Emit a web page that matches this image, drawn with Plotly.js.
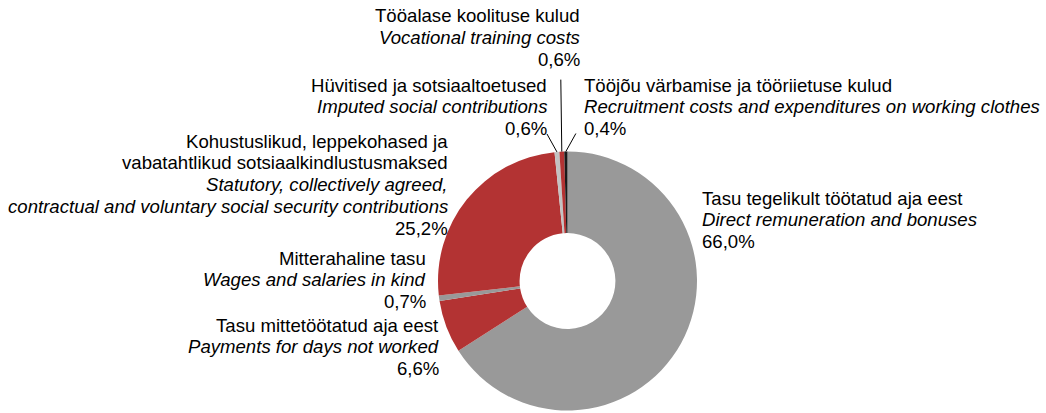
<!DOCTYPE html>
<html>
<head>
<meta charset="utf-8">
<script src="https://cdn.plot.ly/plotly-3.0.1.min.js"></script>
<style>html,body{margin:0;padding:0;background:#fff;}#chart{width:1046px;height:413px;}</style>
</head>
<body>
<div id="chart"></div>
<script>
// ---- data ----
const labelsEt = [
  "Tasu tegelikult töötatud aja eest",
  "Tasu mittetöötatud aja eest",
  "Mitterahaline tasu",
  "Kohustuslikud, leppekohased ja|vabatahtlikud sotsiaalkindlustusmaksed",
  "Hüvitised ja sotsiaaltoetused",
  "Tööalase koolituse kulud",
  "Tööjõu värbamise ja tööriietuse kulud"
];
const labelsEn = [
  "Direct remuneration and bonuses",
  "Payments for days not worked",
  "Wages and salaries in kind",
  "Statutory, collectively agreed,|contractual and voluntary social security contributions",
  "Imputed social contributions",
  "Vocational training costs",
  "Recruitment costs and expenditures on working clothes"
];
const values = [66.0, 6.6, 0.7, 25.2, 0.6, 0.6, 0.4];

// ---- style ----
const colors = ["#999999", "#b33333", "#999999", "#b33333", "#c3c3c3", "#b33333", "#1a1a1a"];
const W = 1046, H = 413;
const cx = 567.5, cy = 281, R = 129.5;
// label block placement (px): x anchor, first line y, alignment
const labelPos = [
  {x: 701, y: 198, a: "left"},
  {x: 440, y: 325, a: "right"},
  {x: 427, y: 258, a: "right"},
  {x: 449, y: 141, a: "right"},
  {x: 548, y: 85, a: "right"},
  {x: 581, y: 16, a: "right"},
  {x: 583, y: 85, a: "left"}
];
// leader line tail offsets (px) for small slices
const leaders = {4: [-10, -18], 5: [-1, -72], 6: [10, -18]};
const lineStep = 21.8;
const fontFam = "Liberation Sans, Arial, sans-serif";

const px = x => x / W, py = y => 1 - y / H;
const fmt = v => v.toFixed(1).replace(".", ",") + "%";

const annotations = [];
values.forEach((v, i) => {
  const lines = [];
  labelsEt[i].split("|").forEach(t => lines.push(t));
  labelsEn[i].split("|").forEach(t => lines.push("<i>" + t + "</i>"));
  lines.push(fmt(v));
  const p = labelPos[i];
  lines.forEach((t, k) => {
    annotations.push({
      xref: "paper", yref: "paper",
      x: px(p.x), y: py(p.y + k * lineStep),
      xanchor: p.a, yanchor: "middle",
      text: t, showarrow: false, align: p.a, borderpad: 0,
      font: {family: fontFam, size: 18.6, color: "#000"}
    });
  });
});

// leader lines computed from slice mid-angles
const total = values.reduce((a, b) => a + b, 0);
const shapes = [];
let cum = 0;
values.forEach((v, i) => {
  const mid = (cum + v / 2) / total * 2 * Math.PI;
  cum += v;
  if (leaders[i]) {
    const hx = cx + R * Math.sin(mid), hy = cy - R * Math.cos(mid);
    const tx = hx + leaders[i][0], ty = hy + leaders[i][1];
    shapes.push({type: "line", xref: "paper", yref: "paper",
      x0: px(hx), y0: py(hy), x1: px(tx), y1: py(ty),
      line: {color: "#000", width: 1}});
  }
});

const trace = {
  type: "pie",
  values: values,
  labels: labelsEn.map(s => s.replace("|", " ")),
  sort: false,
  direction: "clockwise",
  rotation: 0,
  hole: 0.37,
  textinfo: "none",
  hoverinfo: "label+percent",
  marker: {colors: colors, line: {width: 0}},
  domain: {x: [px(cx - 131), px(cx + 131)], y: [py(cy + R), py(cy - R)]},
  showlegend: false
};

Plotly.newPlot("chart", [trace], {
  width: W, height: H,
  margin: {l: 0, r: 0, t: 0, b: 0},
  paper_bgcolor: "#fff",
  showlegend: false,
  annotations: annotations,
  shapes: shapes
}, {displayModeBar: false, staticPlot: true});
</script>
</body>
</html>
